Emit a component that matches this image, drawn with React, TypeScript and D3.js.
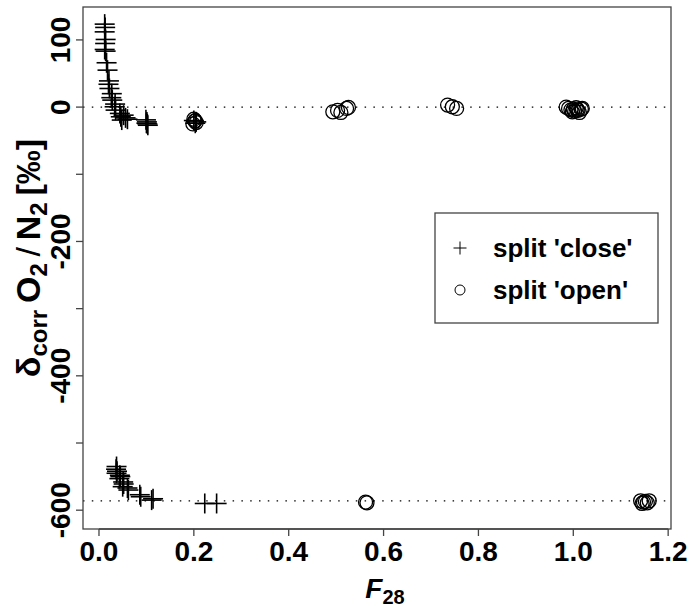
import React from "react";
import * as d3 from "d3";

// ---- data ----
const closeX = [
  0.012, 0.013, 0.012, 0.014, 0.013, 0.012, 0.014,
  0.016, 0.018,
  0.021, 0.020, 0.022,
  0.027, 0.026, 0.028,
  0.034, 0.033, 0.035,
  0.044, 0.046, 0.048, 0.052, 0.056, 0.060,
  0.099, 0.101, 0.102, 0.103, 0.100,
  0.200, 0.205, 0.203,
  0.037, 0.036, 0.038, 0.037, 0.044, 0.045, 0.043, 0.051, 0.052, 0.050, 0.060, 0.062,
  0.086, 0.088, 0.111, 0.114, 0.223, 0.248,
];
const closeY = [
  123.5, 118.6, 112, 100.7, 94.7, 85.8, 83.3,
  66, 55,
  39, 34, 27.7,
  20, 14, 10.4,
  4.5, 0.5, -4.5,
  -9.4, -14.4, -19.3, -12, -16, -18,
  -19, -22, -25, -27, -24,
  -20, -22, -24,
  -535, -539, -542, -545, -548, -550, -553, -558, -561, -565, -567, -570,
  -577, -580, -585, -583, -590, -590,
];
const openX = [
  0.200, 0.202, 0.205, 0.198, 0.203,
  0.493, 0.503, 0.510, 0.522, 0.526,
  0.735, 0.745, 0.754,
  0.985, 0.990, 0.995, 1.000, 1.003, 1.006, 1.010, 1.013, 1.017, 1.019, 0.998, 1.008,
  0.562, 0.565,
  1.142, 1.148, 1.152, 1.156, 1.160, 1.145,
];
const openY = [
  -18, -21, -23, -25, -20,
  -7, -5, -8, -2, -0.5,
  3, 0.5, -2,
  0, -2, -4, -3, -6, -1, -5, -8, -3, -2, -7, -4,
  -588, -589,
  -586, -588, -587, -589, -586, -590,
];
const refLines = [0, -586];
const xTicks = [0, 0.2, 0.4, 0.6, 0.8, 1.0, 1.2];
const yTicks = [100, 0, -100, -200, -300, -400, -500, -600];
const yLabeled = [100, 0, -200, -400, -600];
const legendLabels = ["split 'close'", "split 'open'"];

const FONT = "'Liberation Sans', Arial, Helvetica, sans-serif";

export default function App() {
  const left = 83, right = 671, top = 7, bottom = 529;
  const x = d3.scaleLinear().domain([-0.0337, 1.206]).range([left, right]);
  const y = d3.scaleLinear().domain([-628, 149]).range([bottom, top]);
  const ps = 10; // plus half size
  const axisColor = "#444";

  return (
    <svg
      width={690}
      height={613}
      style={{ position: "absolute", left: 0, top: 0, background: "#fff" }}
      fontFamily={FONT}
    >
      <rect x={0} y={0} width={690} height={613} fill="#fff" />
      {/* reference lines */}
      {refLines.map((v, i) => (
        <line
          key={i}
          x1={left}
          x2={right}
          y1={y(v)}
          y2={y(v)}
          stroke="#000"
          strokeWidth={1.3}
          strokeDasharray="1.5,7.3"
        />
      ))}
      {/* points: plus */}
      {closeX.map((xv, i) => {
        const cx = x(xv), cy = y(closeY[i]);
        return (
          <g key={"c" + i} stroke="#000" strokeWidth={1.6}>
            <line x1={cx - ps} x2={cx + ps} y1={cy} y2={cy} />
            <line x1={cx} x2={cx} y1={cy - ps} y2={cy + ps} />
          </g>
        );
      })}
      {openX.map((xv, i) => (
        <circle
          key={"o" + i}
          cx={x(xv)}
          cy={y(openY[i])}
          r={7}
          fill="none"
          stroke="#000"
          strokeWidth={1.3}
        />
      ))}
      {/* box */}
      <rect x={left} y={top} width={right - left} height={bottom - top} fill="none" stroke={axisColor} strokeWidth={1.3} />
      {/* x axis */}
      <line x1={x(xTicks[0])} x2={x(xTicks[xTicks.length - 1])} y1={bottom} y2={bottom} stroke={axisColor} strokeWidth={1.3} />
      {xTicks.map((t) => (
        <g key={"xt" + t}>
          <line x1={x(t)} x2={x(t)} y1={bottom} y2={bottom + 7} stroke={axisColor} strokeWidth={1.3} />
          <text x={x(t)} y={bottom + 32} textAnchor="middle" fontSize={28} fontWeight="bold">
            {t.toFixed(1)}
          </text>
        </g>
      ))}
      {/* y axis */}
      {yTicks.map((t) => (
        <line key={"yt" + t} x1={left - 7} x2={left} y1={y(t)} y2={y(t)} stroke={axisColor} strokeWidth={1.3} />
      ))}
      {yLabeled.map((t) => (
        <text
          key={"yl" + t}
          transform={`translate(${left - 13},${y(t)}) rotate(-90)`}
          textAnchor="middle"
          fontSize={28}
          fontWeight="bold"
        >
          {String(t)}
        </text>
      ))}
      {/* axis titles */}
      <text x={385} y={598} textAnchor="middle" fontWeight="bold" fontSize={28}>
        <tspan fontStyle="italic">F</tspan>
        <tspan fontSize={20} dy={6}>28</tspan>
      </text>
      <text
        transform={`translate(40,258) rotate(-90)`}
        textAnchor="middle"
        fontWeight="bold"
        fontSize={34}
      >
        <tspan>δ</tspan>
        <tspan fontSize={24} dy={7}>corr</tspan>
        <tspan dy={-7}>{"\u2009O"}</tspan>
        <tspan fontSize={24} dy={7}>2</tspan>
        <tspan dy={-7} fontWeight="normal">{"\u2009/\u2009"}</tspan>
        <tspan>N</tspan>
        <tspan fontSize={24} dy={7}>2</tspan>
        <tspan dy={-7}>{"\u2009[‰]"}</tspan>
      </text>
      {/* legend */}
      <rect x={435} y={213} width={223} height={110} fill="#fff" stroke={axisColor} strokeWidth={1.3} />
      <g stroke="#000" strokeWidth={1}>
        <line x1={453.5} x2={466.5} y1={248} y2={248} />
        <line x1={460} x2={460} y1={241.5} y2={254.5} />
      </g>
      <circle cx={460} cy={290} r={5} fill="none" stroke="#000" strokeWidth={1} />
      {legendLabels.map((l, i) => (
        <text key={l} x={493} y={248 + i * 42} dominantBaseline="central" fontSize={26} fontWeight="bold">
          {l}
        </text>
      ))}
    </svg>
  );
}
